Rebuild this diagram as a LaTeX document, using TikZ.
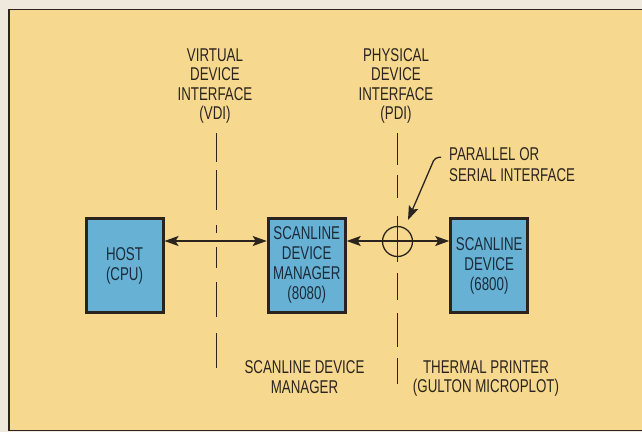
\documentclass[tikz,border=0pt]{standalone}
\usepackage{fontspec}
\setmainfont{Liberation Sans}[FakeStretch=0.72]
\usetikzlibrary{arrows.meta}
\definecolor{outerbg}{HTML}{EEE9DC}
\definecolor{paper}{HTML}{F6D98F}
\definecolor{boxblue}{HTML}{67B1D4}
\definecolor{ink}{HTML}{2B241E}
\definecolor{boxink}{HTML}{1B2B3A}
\tikzset{
  lbl/.style={font=\fontsize{18.5}{19.6}\selectfont, text=ink, inner sep=0pt, align=center},
  blk/.style={draw=ink, line width=3pt, fill=boxblue, minimum width=77pt, minimum height=94pt,
    inner sep=0pt, align=center, text=boxink, font=\fontsize{18.5}{20}\selectfont},
  guide/.style={draw=ink, line width=1.4pt},
  conn/.style={draw=ink, line width=1.5pt, {Stealth[length=14pt,width=10pt,inset=3pt]}-{Stealth[length=14pt,width=10pt,inset=3pt]}},
  leader/.style={draw=ink, line width=1.3pt, rounded corners=4pt, -{Stealth[length=14pt,width=10pt,inset=2.5pt]}}
}
\begin{document}
\begin{tikzpicture}[x=1pt,y=-1pt]
\useasboundingbox (0,0) rectangle (642,432);
\clip (0,0) rectangle (642,432);
\fill[outerbg] (0,0) rectangle (642,432);
\draw[ink, line width=1.6pt, fill=paper] (9,9.3) rectangle (660,430.5);

% interface guide lines (dashed, drawn as segments)
\foreach \a/\b in {133/162,170/210,225/233,247/268,282/317,333/368}
  \draw[guide] (216.5,\a) -- (216.5,\b);
\foreach \a/\b in {133/165,175/198,216/262,273/300,313/347,358/384}
  \draw[guide] (397.5,\a) -- (397.5,\b);

% labels
\node[lbl] (vdi) at (215,86) {VIRTUAL\\DEVICE\\INTERFACE\\(VDI)};
\node[lbl] (pdi) at (396,86) {PHYSICAL\\DEVICE\\INTERFACE\\(PDI)};
\node[lbl, align=left, anchor=north west, font=\fontsize{18.5}{20.6}\selectfont] (par) at (449,147.5) {PARALLEL OR\\SERIAL INTERFACE};
\node[lbl] (sdmlbl) at (304.5,377) {SCANLINE DEVICE\\MANAGER};
\node[lbl] (prnlbl) at (486,378.7) {THERMAL PRINTER\\(GULTON MICROPLOT)};

% blocks
\node[blk] (host) at (124.5,265.5) {HOST\\(CPU)};
\node[blk] (sdm) at (306.7,265.4) {SCANLINE\\DEVICE\\MANAGER\\(8080)};
\node[blk] (sd) at (489.2,265.8) {SCANLINE\\DEVICE\\(6800)};

% interface circle
\node[draw=ink, line width=1.3pt, circle, minimum size=30pt, inner sep=0pt] (ifc) at (397.5,241.5) {};

% connectors
\coordinate (ay) at (0,241);
\draw[conn] (host.east |- ay) -- (sdm.west |- ay);
\draw[conn] (sdm.east |- ay) -- (sd.west |- ay);

% leader
\coordinate (ls) at (441,157.3);
\coordinate (lt) at (408,220);
\draw[leader] (ls) -- (435,157.3) -- (lt);
\end{tikzpicture}
\end{document}
